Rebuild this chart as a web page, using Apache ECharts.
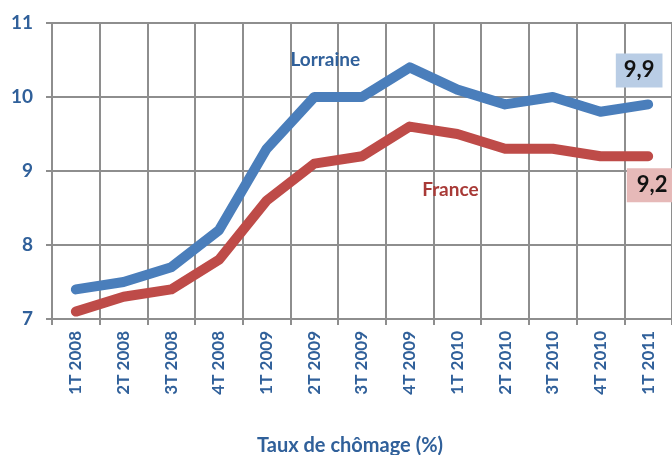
<!DOCTYPE html>
<html>
<head>
<meta charset="utf-8">
<script src="https://cdn.jsdelivr.net/npm/echarts@6/dist/echarts.min.js"></script>
<style>
  html, body { margin: 0; padding: 0; background: #fff; }
  #chart { width: 672px; height: 455px; }
</style>
</head>
<body>
<div id="chart"></div>
<script>
// Taux de chômage : Lorraine vs France
var categories = ['1T 2008', '2T 2008', '3T 2008', '4T 2008', '1T 2009', '2T 2009', '3T 2009',
    '4T 2009', '1T 2010', '2T 2010', '3T 2010', '4T 2010', '1T 2011'];
var lorraine = [7.4, 7.5, 7.7, 8.2, 9.3, 10.0, 10.0, 10.4, 10.1, 9.9, 10.0, 9.8, 9.9];
var france = [7.1, 7.3, 7.4, 7.8, 8.6, 9.1, 9.2, 9.6, 9.5, 9.3, 9.3, 9.2, 9.2];
var yTicks = [7, 8, 9, 10, 11];

var textBlue = '#30609a'
    , gridGrey = '#8e8e8e'
    , fontFam = 'Lato, "Liberation Sans", sans-serif';

var dom = document.getElementById('chart');
var myChart = echarts.init(dom);

// construit les points, avec étiquettes sur certains indices
function build(values, labels) {
    return values.map(function (v, i) {
        var item = { value: v };
        if (labels[i]) item.label = labels[i];
        return item;
    });
}

var last = categories.length - 1;
var lorraineLabels = {}, franceLabels = {};
lorraineLabels[5] = {
    show: true, formatter: 'Lorraine', position: 'inside', offset: [11, -37],
    color: textBlue, fontSize: 19, fontWeight: 'bold', fontFamily: fontFam
};
lorraineLabels[last] = {
    show: true, formatter: '9,9', position: 'inside', offset: [-9, -34],
    backgroundColor: '#b9cde5', padding: [6, 8, 6, 8],
    color: '#111', fontSize: 22, fontWeight: 'bold', fontFamily: fontFam
};
franceLabels[8] = {
    show: true, formatter: 'France', position: 'inside', offset: [-7, 56],
    color: '#a83a37', fontSize: 19, fontWeight: 'bold', fontFamily: fontFam
};
franceLabels[last] = {
    show: true, formatter: '9,2', position: 'inside', offset: [4, 29],
    backgroundColor: '#e6b9b8', padding: [6, 10, 6, 10],
    color: '#111', fontSize: 22, fontWeight: 'bold', fontFamily: fontFam
};

var option = {
    animation: false,
    backgroundColor: '#fff',
    title: {
        text: 'Taux de chômage (%)',
        left: 252, top: 431,
        textStyle: { color: textBlue, fontSize: 20, fontWeight: 'bold', fontFamily: fontFam }
    },
    grid: { left: 52, right: -9, top: 23, bottom: 136 },
    xAxis: {
        type: 'category',
        data: categories,
        boundaryGap: true,
        axisLine: { lineStyle: { color: gridGrey, width: 2 } },
        axisTick: { show: true, length: 6, lineStyle: { color: gridGrey, width: 2 } },
        splitLine: { show: true, lineStyle: { color: gridGrey, width: 2 } },
        axisLabel: {
            rotate: 90, margin: 12, interval: 0,
            color: textBlue, fontSize: 17, fontWeight: 'bold', fontFamily: fontFam
        }
    },
    yAxis: {
        type: 'value',
        min: yTicks[0], max: yTicks[yTicks.length - 1], interval: 1,
        axisLine: { show: true, lineStyle: { color: gridGrey, width: 2 } },
        axisTick: { show: true, length: 6, lineStyle: { color: gridGrey, width: 2 } },
        splitLine: { show: true, lineStyle: { color: gridGrey, width: 2 } },
        axisLabel: {
            margin: 19,
            color: textBlue, fontSize: 19, fontWeight: 'bold', fontFamily: fontFam
        }
    },
    series: [{
        name: 'Lorraine',
        type: 'line',
        data: build(lorraine, lorraineLabels),
        symbol: 'circle',
        symbolSize: 1,
        showSymbol: true,
        lineStyle: { color: '#4a7ebb', width: 10, cap: 'round', join: 'round' },
        itemStyle: { color: '#4a7ebb' },
        z: 3
    }, {
        name: 'France',
        type: 'line',
        data: build(france, franceLabels),
        symbol: 'circle',
        symbolSize: 1,
        showSymbol: true,
        lineStyle: { color: '#be4b48', width: 10, cap: 'round', join: 'round' },
        itemStyle: { color: '#be4b48' },
        z: 2
    }]
};

if (option && typeof option === 'object') {
    myChart.setOption(option, true);
}
</script>
</body>
</html>
